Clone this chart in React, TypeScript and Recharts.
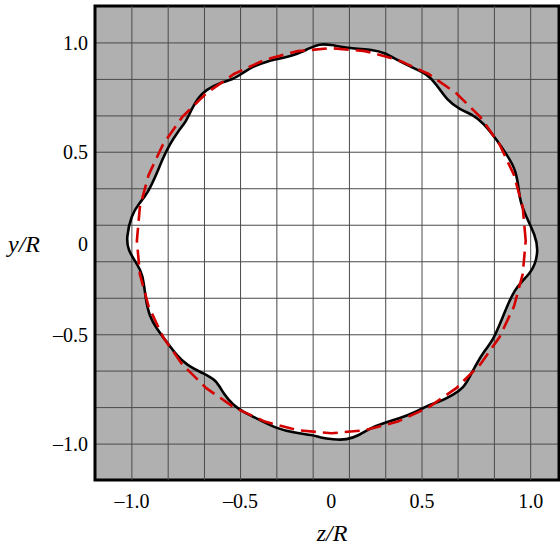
import {
  CartesianGrid,
  Label,
  ReferenceArea,
  Scatter,
  ScatterChart,
  XAxis,
  YAxis,
} from "recharts";

// measured cross-section outline, clockwise from the top
const outlineZ = [
  -0.058, -0.008, 0.093, 0.21, 0.269, 0.327, 0.394, 0.486, 0.528, 0.578,
  0.645, 0.712, 0.762, 0.829, 0.88, 0.921, 0.938, 0.946, 0.98, 1.022,
  1.038, 1.022, 0.996, 0.955, 0.921, 0.888, 0.854, 0.812, 0.771, 0.729,
  0.695, 0.662, 0.611, 0.545, 0.486, 0.428, 0.344, 0.26, 0.193, 0.143,
  0.076, 0.009, -0.058, -0.091, -0.192, -0.275, -0.342, -0.443, -0.493, -0.543,
  -0.576, -0.644, -0.727, -0.777, -0.827, -0.877, -0.911, -0.931, -0.945, -0.978,
  -1.02, -1.028, -1.003, -0.962, -0.92, -0.878, -0.844, -0.811, -0.769, -0.727,
  -0.702, -0.669, -0.627, -0.56, -0.493, -0.443, -0.393, -0.325, -0.242, -0.175,
  -0.108,
];
const outlineY = [
  0.995, 0.992, 0.972, 0.967, 0.95, 0.917, 0.883, 0.842, 0.792, 0.717,
  0.667, 0.642, 0.601, 0.518, 0.443, 0.376, 0.293, 0.21, 0.127, 0.043,
  -0.031, -0.106, -0.148, -0.19, -0.231, -0.297, -0.381, -0.481, -0.531, -0.597,
  -0.664, -0.722, -0.755, -0.789, -0.805, -0.839, -0.871, -0.896, -0.921, -0.955,
  -0.98, -0.977, -0.967, -0.955, -0.943, -0.921, -0.888, -0.839, -0.805, -0.747,
  -0.68, -0.647, -0.605, -0.556, -0.489, -0.422, -0.364, -0.281, -0.148, -0.098,
  -0.031, 0.028, 0.143, 0.202, 0.252, 0.343, 0.426, 0.493, 0.559, 0.609,
  0.667, 0.726, 0.767, 0.801, 0.817, 0.851, 0.883, 0.908, 0.925, 0.942,
  0.975,
];

// reference (dashed) contour
const circleZ = [
  0.975, 0.96, 0.916, 0.844, 0.747, 0.627, 0.488, 0.333, 0.169, 0,
  -0.169, -0.333, -0.488, -0.627, -0.747, -0.844, -0.916, -0.96, -0.975, -0.96,
  -0.916, -0.844, -0.747, -0.627, -0.488, -0.333, -0.169, 0, 0.169, 0.333,
  0.488, 0.627, 0.747, 0.844, 0.916, 0.96,
];
const circleY = [
  0.014, 0.181, 0.342, 0.494, 0.631, 0.749, 0.845, 0.916, 0.959, 0.974,
  0.959, 0.916, 0.845, 0.749, 0.631, 0.494, 0.342, 0.181, 0.014, -0.153,
  -0.314, -0.466, -0.603, -0.721, -0.817, -0.888, -0.931, -0.946, -0.931, -0.888,
  -0.817, -0.721, -0.603, -0.466, -0.314, -0.153,
];

const gridValues = [-1, -0.818, -0.636, -0.455, -0.273, -0.091, 0.091, 0.273, 0.455, 0.636, 0.818, 1];
const tickValues = [-1, -0.455, 0, 0.455, 1];
const tickLabels = ["–1.0", "–0.5", "0", "0.5", "1.0"];

const zDomain = [-1.185, 1.142];
const yDomain = [-1.179, 1.184];

const outline = outlineZ.map((z, i) => ({ z, y: outlineY[i] }));
const circle = circleZ.map((z, i) => ({ z, y: circleY[i] }));
const verticals = gridValues.map((z) => [
  { z, y: yDomain[0] },
  { z, y: yDomain[1] },
]);

const W = 560;
const H = 546;
const margin = { top: 6, right: 1, bottom: 0, left: 0 };
const serif = "Liberation Serif";
const tickStyle = { fontFamily: serif, fontSize: 20, fill: "#000" };
const gridColor = "#4a4a4a";

const fmt = (v: number) => tickLabels[tickValues.indexOf(v)] ?? "";
const noDot = () => <g />;

function axes(show: boolean) {
  return [
    <XAxis
      key="x"
      type="number"
      dataKey="z"
      domain={zDomain}
      allowDataOverflow
      ticks={tickValues}
      interval={0}
      tickFormatter={fmt}
      height={66}
      axisLine={false}
      tickLine={false}
      tickSize={0}
      tickMargin={14}
      tick={show ? tickStyle : false}
    >
      {show && (
        <Label
          value="z/R"
          position="insideBottom"
          offset={5}
          dx={5}
          fontFamily={serif}
          fontSize={24}
          fontStyle="italic"
          fill="#000"
        />
      )}
    </XAxis>,
    <YAxis
      key="y"
      type="number"
      dataKey="y"
      domain={yDomain}
      allowDataOverflow
      ticks={tickValues}
      interval={0}
      tickFormatter={fmt}
      width={95}
      axisLine={false}
      tickLine={false}
      tickSize={0}
      tickMargin={7}
      tick={show ? tickStyle : false}
    >
      {show && (
        <Label
          value="y/R"
          position="insideLeft"
          offset={8}
          fontFamily={serif}
          fontSize={24}
          fontStyle="italic"
          fill="#000"
        />
      )}
    </YAxis>,
  ];
}

export default function App() {
  return (
    <div
      style={{
        position: "absolute",
        left: 0,
        top: 0,
        width: W,
        height: H,
        background: "#fff",
        fontFamily: serif,
      }}
    >
      {/* fill layer: grey field, white inside the outline */}
      <div style={{ position: "absolute", left: 0, top: 0 }}>
        <ScatterChart width={W} height={H} margin={margin}>
          <CartesianGrid fill="#b0b0b0" horizontal={false} vertical={false} />
          {axes(false)}
          <Scatter
            data={outline}
            shape={noDot}
            line={{ fill: "#fff", stroke: "none" }}
            lineType="joint"
            lineJointType="basisClosed"
            isAnimationActive={false}
          />
        </ScatterChart>
      </div>
      {/* grid, curves, frame and labels */}
      <div style={{ position: "absolute", left: 0, top: 0 }}>
        <ScatterChart width={W} height={H} margin={margin}>
          <YAxis yAxisId="g" type="number" domain={yDomain} allowDataOverflow ticks={gridValues} interval={0} hide />
          <CartesianGrid yAxisId="g" vertical={false} stroke={gridColor} strokeWidth={1} />
          {axes(true)}
          {verticals.map((pts, i) => (
            <Scatter
              key={`v${i}`}
              data={pts}
              shape={noDot}
              line={{ stroke: gridColor, strokeWidth: 1, fill: "none" }}
              lineType="joint"
              lineJointType="linear"
              isAnimationActive={false}
            />
          ))}
          <Scatter
            data={outline}
            shape={noDot}
            line={{ fill: "none", stroke: "#000", strokeWidth: 2.6 }}
            lineType="joint"
            lineJointType="basisClosed"
            isAnimationActive={false}
          />
          <Scatter
            data={circle}
            shape={noDot}
            line={{ fill: "none", stroke: "#d40000", strokeWidth: 2.6, strokeDasharray: "15 7" }}
            lineType="joint"
            lineJointType="linearClosed"
            isAnimationActive={false}
          />
          <ReferenceArea
            x1={zDomain[0]}
            x2={zDomain[1]}
            y1={yDomain[0]}
            y2={yDomain[1]}
            fill="none"
            stroke="#000"
            strokeWidth={3}
            ifOverflow="visible"
          />
        </ScatterChart>
      </div>
    </div>
  );
}
